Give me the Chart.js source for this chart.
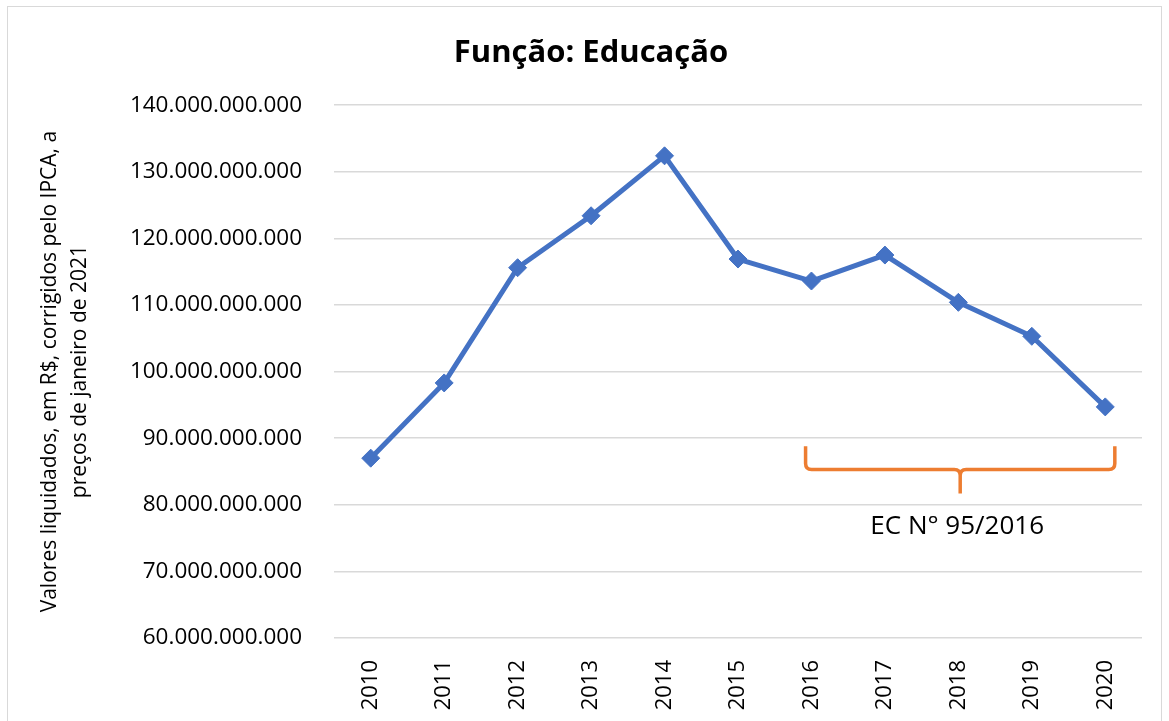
<!DOCTYPE html>
<html>
<head>
<meta charset="utf-8">
<script src="https://cdn.jsdelivr.net/npm/chart.js@4"></script>
<style>
    body { margin: 0; background: #fff; }
    #wrap { position: relative; width: 1169px; height: 721px; }
    #frame { position: absolute; left: 7px; top: 6px; width: 1155px; height: 720px; border: 1.5px solid #d9d9d9; box-sizing: border-box; }
    canvas { position: absolute; left: 0; top: 0; }
</style>
</head>
<body>
<div id="wrap">
    <div id="frame"></div>
    <canvas id="grafico" width="1169" height="721"></canvas>
</div>
<script>
const anos = ['2010', '2011', '2012', '2013', '2014', '2015', '2016', '2017', '2018', '2019', '2020'];
const valores = [87.0e9, 98.3e9, 115.6e9, 123.4e9, 132.4e9, 116.9e9, 113.6e9, 117.5e9, 110.4e9, 105.3e9, 94.7e9];
const yMin = 60e9;
const yMax = 140e9;
const yStep = 10e9;
const tituloEixoY = ['Valores liquidados, em R$, corrigidos pelo IPCA, a', 'preços de janeiro de 2021'];
const chaveInicio = '2016';
const chaveFim = '2020';
const chaveTexto = 'EC N° 95/2016';

const fonte = '"Open Sans", sans-serif';

function formatarValor(v) {
    return String(Math.round(v)).replace(/\B(?=(\d{3})+(?!\d))/g, '.');
}

// chave laranja desenhada sobre o gráfico
const chavePlugin = {
    id: 'chave',
    afterDatasetsDraw(chart) {
        const ctx = chart.ctx;
        const x = chart.scales.x;
        const y = chart.scales.y;
        const step = x.getPixelForValue(1) - x.getPixelForValue(0);
        const esq = x.getPixelForValue(anos.indexOf(chaveInicio)) - step * 0.08;
        const dir = x.getPixelForValue(anos.indexOf(chaveFim)) + step * 0.13;
        const meio = (esq + dir) / 2;
        const topo = y.getPixelForValue(88.8e9);
        const linha = y.getPixelForValue(85.3e9);
        const ponta = y.getPixelForValue(81.7e9);
        const r = 6;

        ctx.save();
        ctx.strokeStyle = '#ED7D31';
        ctx.lineWidth = 3.5;
        ctx.lineJoin = 'round';
        ctx.beginPath();
        ctx.moveTo(esq, topo);
        ctx.lineTo(esq, linha - r);
        ctx.quadraticCurveTo(esq, linha, esq + r, linha);
        ctx.lineTo(meio - r, linha);
        ctx.quadraticCurveTo(meio, linha, meio, linha + r);
        ctx.lineTo(meio, ponta);
        ctx.moveTo(meio, linha + r);
        ctx.quadraticCurveTo(meio, linha, meio + r, linha);
        ctx.lineTo(dir - r, linha);
        ctx.quadraticCurveTo(dir, linha, dir, linha - r);
        ctx.lineTo(dir, topo);
        ctx.stroke();

        ctx.fillStyle = '#000';
        ctx.font = '26px ' + fonte;
        ctx.textAlign = 'center';
        ctx.textBaseline = 'middle';
        ctx.fillText(chaveTexto, meio - 3, y.getPixelForValue(76.7e9));
        ctx.restore();
    }
};

new Chart(document.getElementById('grafico').getContext('2d'), {
    type: 'line',
    data: {
        labels: anos,
        datasets: [{
            data: valores,
            borderColor: '#4472C4',
            backgroundColor: '#4472C4',
            borderWidth: 5,
            pointStyle: 'rectRot',
            pointRadius: 9,
            pointBorderWidth: 1,
            tension: 0
        }]
    },
    options: {
        responsive: false,
        animation: false,
        layout: { padding: { left: 13, right: 0, top: 0, bottom: 0 } },
        plugins: {
            legend: { display: false },
            tooltip: { enabled: false },
            title: {
                display: true,
                text: 'Função: Educação',
                color: '#000',
                font: { family: fonte, size: 31, weight: 'bold', lineHeight: 1.2 },
                padding: { top: 35, bottom: 33 }
            }
        },
        scales: {
            x: {
                offset: true,
                grid: { display: false },
                border: { display: false },
                ticks: {
                    color: '#000',
                    font: { family: fonte, size: 22 },
                    minRotation: 90,
                    maxRotation: 90,
                    padding: 14
                },
                afterFit(scale) { scale.height = 83; }
            },
            y: {
                min: yMin,
                max: yMax,
                grid: { color: '#d9d9d9', lineWidth: 1.5, drawTicks: false },
                border: { display: false },
                ticks: {
                    stepSize: yStep,
                    color: '#000',
                    font: { family: fonte, size: 22.5 },
                    padding: 32,
                    callback: v => formatarValor(v)
                },
                title: {
                    display: true,
                    text: tituloEixoY,
                    color: '#000',
                    font: { family: fonte, size: 21, lineHeight: 1.43 },
                    padding: { top: 22, bottom: 0 }
                },
                afterFit(scale) { scale.width = 321; }
            },
            // eixo vazio à direita, só para reservar a margem
            margem: {
                position: 'right',
                grid: { display: false },
                border: { display: false },
                ticks: { display: false },
                afterFit(scale) { scale.width = 27; }
            }
        }
    },
    plugins: [chavePlugin]
});
</script>
</body>
</html>
